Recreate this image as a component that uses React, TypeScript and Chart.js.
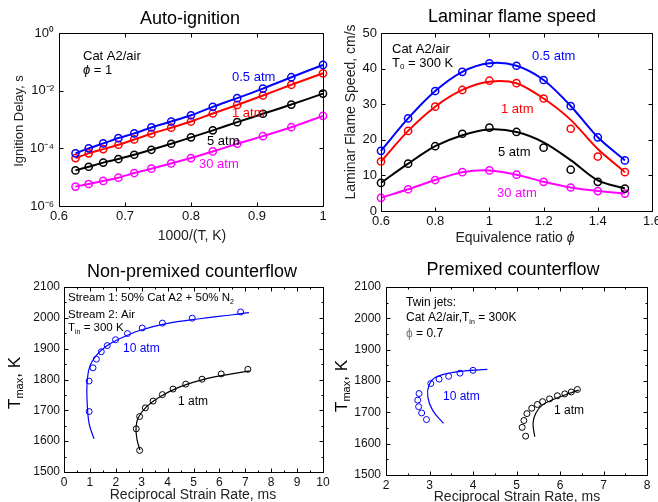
import React, { useEffect, useRef } from 'react';
import { Chart, registerables } from 'chart.js';
Chart.register(...registerables);

const FONT = '"Liberation Sans", Arial, Helvetica, sans-serif';
const BLUE = '#0000ff';
const RED = '#ff0000';
const BLACK = '#000000';
const MAGENTA = '#ff00ff';

// ---------- Panel 1: Auto-ignition ----------
const igX = [0.625, 0.645, 0.667, 0.69, 0.714, 0.74, 0.77, 0.8, 0.833, 0.87, 0.909, 0.952, 1.0];
const ig05 = [6.7e-5, 1.0e-4, 1.48e-4, 2.27e-4, 3.3e-4, 5.3e-4, 8.5e-4, 1.4e-3, 2.75e-3, 5.5e-3, 1.18e-2, 2.93e-2, 7.8e-2];
const ig1 = [4.6e-5, 6.7e-5, 9.4e-5, 1.33e-4, 2.03e-4, 3.2e-4, 5.2e-4, 8.5e-4, 1.62e-3, 3.2e-3, 6.8e-3, 1.6e-2, 4.0e-2];
const ig5 = [1.72e-5, 2.3e-5, 3.2e-5, 4.25e-5, 6.0e-5, 8.9e-5, 1.44e-4, 2.4e-4, 4.2e-4, 8.1e-4, 1.58e-3, 3.3e-3, 7.9e-3];
const ig30 = [4.7e-6, 5.8e-6, 7.4e-6, 9.6e-6, 1.39e-5, 1.97e-5, 3.0e-5, 4.6e-5, 7.8e-5, 1.44e-4, 2.65e-4, 5.4e-4, 1.34e-3];
const igXTicks = [0.6, 0.7, 0.8, 0.9, 1.0];
const igYTicks = [1e-6, 1e-4, 1e-2, 1];

// ---------- Panel 2: Laminar flame speed ----------
const phiX = [0.6, 0.7, 0.8, 0.9, 1.0, 1.1, 1.2, 1.3, 1.4, 1.5];
const sl05 = [16.9, 26.0, 33.7, 39.1, 41.5, 40.8, 36.8, 29.5, 20.7, 14.2];
const sl1 = [13.9, 22.5, 29.3, 34.0, 36.6, 35.9, 31.6, 23.1, 15.3, 10.9];
const sl1Line = [13.9, 22.5, 29.3, 34.0, 36.3, 35.9, 31.6, 25.6, 17.4, 10.9];
const sl5 = [7.9, 13.3, 18.2, 21.7, 23.4, 22.2, 17.8, 11.6, 8.2, 6.3];
const sl5Line = [7.9, 13.3, 18.2, 21.3, 22.9, 22.2, 19.3, 14.3, 8.6, 6.3];
const sl30 = [3.7, 6.1, 8.7, 10.9, 11.4, 10.2, 8.2, 6.6, 5.6, 4.9];
const slXTicks = [0.6, 0.8, 1.0, 1.2, 1.4, 1.6];
const slYTicks = [0, 10, 20, 30, 40, 50];

// ---------- Panel 3: Non-premixed counterflow ----------
const np10MX = [0.97, 0.97, 1.12, 1.25, 1.44, 1.67, 1.99, 2.45, 3.02, 3.80, 4.95, 6.82];
const np10MY = [1696, 1795, 1838, 1866, 1890, 1910, 1929, 1949, 1967, 1983, 1999, 2019];
const np10LX = [1.16, 0.97, 0.89, 0.89, 0.99, 1.25, 1.63, 2.15, 2.92, 3.95, 5.24, 6.52, 7.14];
const np10LY = [1608, 1657, 1732, 1786, 1841, 1878, 1908, 1932, 1959, 1981, 1997, 2010, 2017];
const np1MX = [2.92, 2.79, 2.92, 3.14, 3.44, 3.80, 4.21, 4.70, 5.33, 6.07, 7.10];
const np1MY = [1570, 1640, 1680, 1708, 1730, 1751, 1769, 1785, 1801, 1818, 1833];
const np1LX = [2.93, 2.82, 2.78, 2.86, 3.18, 3.69, 4.47, 5.50, 6.53, 7.17];
const np1LY = [1571, 1605, 1643, 1675, 1711, 1743, 1776, 1803, 1819, 1828];
const npXTicks = [0, 1, 2, 3, 4, 5, 6, 7, 8, 9, 10];
const npXMinor = [0.5, 1.5, 2.5, 3.5, 4.5, 5.5, 6.5, 7.5, 8.5, 9.5];
const tYTicks = [1500, 1600, 1700, 1800, 1900, 2000, 2100];
const tYMinor = [1550, 1650, 1750, 1850, 1950, 2050];

// ---------- Panel 4: Premixed counterflow ----------
const p10MX = [2.93, 2.82, 2.75, 2.73, 2.76, 3.03, 3.22, 3.44, 3.70, 4.00];
const p10MY = [1677, 1698, 1718, 1739, 1760, 1792, 1806, 1815, 1825, 1834];
const p10LX = [3.32, 3.07, 2.96, 2.99, 3.15, 3.61, 4.33];
const p10LY = [1665, 1707, 1750, 1787, 1813, 1829, 1837];
const p1MX = [5.21, 5.13, 5.17, 5.24, 5.35, 5.48, 5.60, 5.76, 5.94, 6.11, 6.26, 6.40];
const p1MY = [1624, 1652, 1674, 1696, 1713, 1725, 1734, 1743, 1753, 1759, 1765, 1773];
const p1LX = [5.42, 5.38, 5.44, 5.59, 5.90, 6.20, 6.43];
const p1LY = [1622, 1665, 1696, 1723, 1744, 1760, 1771];
const pXTicks = [2, 3, 4, 5, 6, 7, 8];
const pXMinor = [2.5, 3.5, 4.5, 5.5, 6.5, 7.5];

// ---------- helpers ----------
type Seg = { t: string; sub?: boolean; sup?: boolean; color?: string; italic?: boolean };
type Txt = { segs: Seg[]; x: number; y: number; size: number; align?: 'left' | 'center'; rot?: boolean; color?: string };

const fontStr = (size: number, italic?: boolean) => `${italic ? 'italic ' : ''}${size}px ${FONT}`;

function drawRich(ctx: CanvasRenderingContext2D, it: Txt) {
  ctx.save();
  const base = it.size;
  const parts = it.segs.map((s) => {
    const sz = s.sub || s.sup ? Math.round(base * 0.62) : base;
    ctx.font = fontStr(sz, s.italic);
    return { s, sz, w: ctx.measureText(s.t).width };
  });
  const total = parts.reduce((a, p) => a + p.w, 0);
  ctx.translate(it.x, it.y);
  if (it.rot) ctx.rotate(-Math.PI / 2);
  let x = it.align === 'center' ? -total / 2 : 0;
  ctx.textBaseline = 'middle';
  ctx.textAlign = 'left';
  for (const p of parts) {
    ctx.font = fontStr(p.sz, p.s.italic);
    ctx.fillStyle = p.s.color || it.color || '#000';
    const dy = p.s.sub ? base * 0.32 : p.s.sup ? -base * 0.35 : 0;
    ctx.fillText(p.s.t, x, dy);
    x += p.w;
  }
  ctx.restore();
}

const pts = (xs: number[], ys: number[]) => xs.map((x, i) => ({ x, y: ys[i] }));

const markers = (xs: number[], ys: number[], color: string, r: number, bw: number) => ({
  data: pts(xs, ys),
  showLine: false,
  pointRadius: r,
  pointHoverRadius: r,
  pointBorderWidth: bw,
  pointBorderColor: color,
  pointBackgroundColor: 'rgba(0,0,0,0)',
  clip: false,
});

const curve = (xs: number[], ys: number[], color: string, w: number, tension: number) => ({
  data: pts(xs, ys),
  showLine: true,
  borderColor: color,
  borderWidth: w,
  pointRadius: 0,
  pointHoverRadius: 0,
  tension,
  fill: false,
  clip: false,
});

const SUP: Record<string, string> = { '-': '⁻', '0': '⁰', '1': '¹', '2': '²', '3': '³', '4': '⁴', '5': '⁵', '6': '⁶', '7': '⁷', '8': '⁸', '9': '⁹' };
const plain = (v: number) => String(Math.round(v * 1000) / 1000);

type PanelDef = {
  w: number;
  h: number;
  plot: { l: number; t: number; r: number; b: number };
  xMin: number; xMax: number; yMin: number; yMax: number;
  yLog?: boolean;
  xTicks: number[]; yTicks: number[];
  xMinor?: number[]; yMinor?: number[];
  tickFont: number;
  xPad: number; yPad: number;
  majorLen: number; minorLen: number;
  datasets: any[];
  texts: Txt[];
  yLabel?: (v: number) => string;
};

function makeConfig(p: PanelDef): any {
  const frame = {
    id: 'frameAndText',
    afterDatasetsDraw(chart: any) {
      const ctx: CanvasRenderingContext2D = chart.ctx;
      const a = chart.chartArea;
      const xs = chart.scales.x;
      const ys = chart.scales.y;
      ctx.save();
      ctx.strokeStyle = '#000';
      ctx.lineWidth = 1;
      const L = Math.round(a.left) + 0.5, R = Math.round(a.right) + 0.5;
      const T = Math.round(a.top) + 0.5, B = Math.round(a.bottom) + 0.5;
      ctx.beginPath();
      ctx.rect(L, T, R - L, B - T);
      const tx = (v: number, len: number) => {
        const px = Math.round(xs.getPixelForValue(v)) + 0.5;
        ctx.moveTo(px, B); ctx.lineTo(px, B - len);
        ctx.moveTo(px, T); ctx.lineTo(px, T + len);
      };
      const ty = (v: number, len: number) => {
        const py = Math.round(ys.getPixelForValue(v)) + 0.5;
        ctx.moveTo(L, py); ctx.lineTo(L + len, py);
        ctx.moveTo(R, py); ctx.lineTo(R - len, py);
      };
      p.xTicks.forEach((v) => tx(v, p.majorLen));
      p.yTicks.forEach((v) => ty(v, p.majorLen));
      (p.xMinor || []).forEach((v) => tx(v, p.minorLen));
      (p.yMinor || []).forEach((v) => ty(v, p.minorLen));
      ctx.stroke();
      ctx.restore();
    },
    afterDraw(chart: any) {
      const ctx: CanvasRenderingContext2D = chart.ctx;
      p.texts.forEach((t) => drawRich(ctx, t));
    },
  };

  const tickFont = { family: FONT, size: p.tickFont };
  return {
    type: 'scatter',
    data: { datasets: p.datasets },
    options: {
      responsive: false,
      animation: false,
      events: [],
      layout: { padding: { left: 0, top: p.plot.t, right: p.w - p.plot.r, bottom: 0 } },
      plugins: { legend: { display: false }, tooltip: { enabled: false }, title: { display: false } },
      scales: {
        x: {
          type: 'linear',
          min: p.xMin,
          max: p.xMax,
          grid: { display: false, drawTicks: false },
          border: { display: false },
          ticks: {
            font: tickFont, color: '#111', padding: p.xPad, autoSkip: false, maxRotation: 0, minRotation: 0,
            callback: (v: any) => plain(Number(v)),
          },
          afterBuildTicks: (s: any) => { s.ticks = p.xTicks.map((v) => ({ value: v })); },
          afterFit: (s: any) => { s.height = p.h - p.plot.b; },
        },
        y: {
          type: p.yLog ? 'logarithmic' : 'linear',
          min: p.yMin,
          max: p.yMax,
          grid: { display: false, drawTicks: false },
          border: { display: false },
          ticks: {
            font: tickFont,
            color: '#111',
            padding: p.yPad,
            autoSkip: false,
            callback: (v: any) => (p.yLabel ? p.yLabel(Number(v)) : plain(Number(v))),
          },
          afterBuildTicks: (s: any) => { s.ticks = p.yTicks.map((v) => ({ value: v })); },
          afterFit: (s: any) => { s.width = p.plot.l; },
        },
      },
    },
    plugins: [frame],
  };
}

// ---------- panel definitions ----------
const panel1: PanelDef = {
  w: 345, h: 250,
  plot: { l: 59, t: 33, r: 323, b: 206 },
  xMin: 0.6, xMax: 1.0, yMin: 1e-6, yMax: 1, yLog: true,
  xTicks: igXTicks, yTicks: igYTicks,
  tickFont: 13, xPad: 3, yPad: 5, majorLen: 4, minorLen: 2,
  yLabel: (v) => '10' + String(Math.round(Math.log10(v))).split('').map((c) => SUP[c] || c).join(''),
  datasets: [
    markers(igX, ig05, BLUE, 3.6, 1.5), markers(igX, ig1, RED, 3.6, 1.5),
    markers(igX, ig5, BLACK, 3.6, 1.5), markers(igX, ig30, MAGENTA, 3.6, 1.5),
    curve(igX, ig05, BLUE, 2, 0.3), curve(igX, ig1, RED, 2, 0.3),
    curve(igX, ig5, BLACK, 2, 0.3), curve(igX, ig30, MAGENTA, 2, 0.3),
  ],
  texts: [
    { segs: [{ t: 'Auto-ignition' }], x: 190, y: 19, size: 18, align: 'center' },
    { segs: [{ t: '1000/(T, K)' }], x: 192, y: 236, size: 14, align: 'center', color: '#222' },
    { segs: [{ t: 'Ignition Delay, s' }], x: 19, y: 121, size: 13, align: 'center', rot: true, color: '#222' },
    { segs: [{ t: 'Cat A2/air' }], x: 83, y: 56, size: 13 },
    { segs: [{ t: 'ϕ', italic: true }, { t: ' = 1' }], x: 83, y: 70, size: 13 },
    { segs: [{ t: '0.5 atm' }], x: 232, y: 77, size: 13, color: BLUE },
    { segs: [{ t: '1 atm' }], x: 232, y: 113, size: 13, color: RED },
    { segs: [{ t: '5 atm' }], x: 207, y: 141, size: 13, color: BLACK },
    { segs: [{ t: '30 atm' }], x: 199, y: 164, size: 13, color: MAGENTA },
  ],
};

const panel2: PanelDef = {
  w: 345, h: 250,
  plot: { l: 52, t: 33, r: 323, b: 211 },
  xMin: 0.6, xMax: 1.6, yMin: 0, yMax: 50,
  xTicks: slXTicks, yTicks: slYTicks,
  tickFont: 13, xPad: 3, yPad: 4, majorLen: 4, minorLen: 2,
  datasets: [
    markers(phiX, sl05, BLUE, 3.6, 1.5), markers(phiX, sl1, RED, 3.6, 1.5),
    markers(phiX, sl5, BLACK, 3.6, 1.5), markers(phiX, sl30, MAGENTA, 3.6, 1.5),
    curve(phiX, sl05, BLUE, 2, 0.3), curve(phiX, sl1Line, RED, 2, 0.3),
    curve(phiX, sl5Line, BLACK, 2, 0.3), curve(phiX, sl30, MAGENTA, 2, 0.3),
  ],
  texts: [
    { segs: [{ t: 'Laminar flame speed' }], x: 183, y: 17, size: 18, align: 'center' },
    { segs: [{ t: 'Equivalence ratio ' }, { t: 'ϕ', italic: true }], x: 186, y: 238, size: 14, align: 'center', color: '#222' },
    { segs: [{ t: 'Laminar Flame Speed, cm/s' }], x: 22, y: 112, size: 14, align: 'center', rot: true, color: '#222' },
    { segs: [{ t: 'Cat A2/air' }], x: 63, y: 49, size: 13 },
    { segs: [{ t: 'T' }, { t: '0', sub: true }, { t: ' = 300 K' }], x: 63, y: 63, size: 13 },
    { segs: [{ t: '0.5 atm' }], x: 203, y: 56, size: 13, color: BLUE },
    { segs: [{ t: '1 atm' }], x: 172, y: 109, size: 13, color: RED },
    { segs: [{ t: '5 atm' }], x: 169, y: 152, size: 13, color: BLACK },
    { segs: [{ t: '30 atm' }], x: 168, y: 193, size: 13, color: MAGENTA },
  ],
};

const panel3: PanelDef = {
  w: 345, h: 252,
  plot: { l: 64, t: 37, r: 323, b: 222 },
  xMin: 0, xMax: 10, yMin: 1500, yMax: 2100,
  xTicks: npXTicks, yTicks: tYTicks, xMinor: npXMinor, yMinor: tYMinor,
  tickFont: 12, xPad: 3, yPad: 4, majorLen: 4, minorLen: 2,
  datasets: [
    markers(np10MX, np10MY, BLUE, 3, 1), markers(np1MX, np1MY, BLACK, 3, 1),
    curve(np10LX, np10LY, BLUE, 1.2, 0.4), curve(np1LX, np1LY, BLACK, 1.2, 0.4),
  ],
  texts: [
    { segs: [{ t: 'Non-premixed counterflow' }], x: 192, y: 22, size: 18, align: 'center' },
    { segs: [{ t: 'Reciprocal Strain Rate, ms' }], x: 193, y: 245, size: 14, align: 'center', color: '#222' },
    { segs: [{ t: 'T' }, { t: 'max', sub: true }, { t: ', K' }], x: 15, y: 133, size: 17, align: 'center', rot: true },
    { segs: [{ t: 'Stream 1: 50% Cat A2 + 50% N' }, { t: '2', sub: true }], x: 68, y: 48, size: 11.5 },
    { segs: [{ t: 'Stream 2: Air' }], x: 68, y: 65, size: 11.5 },
    { segs: [{ t: 'T' }, { t: 'in', sub: true }, { t: ' = 300 K' }], x: 68, y: 78, size: 11.5 },
    { segs: [{ t: '10 atm' }], x: 123, y: 99, size: 12, color: BLUE },
    { segs: [{ t: '1 atm' }], x: 178, y: 152, size: 12, color: BLACK },
  ],
};

const panel4: PanelDef = {
  w: 345, h: 252,
  plot: { l: 57, t: 37, r: 318, b: 225 },
  xMin: 2, xMax: 8, yMin: 1500, yMax: 2100,
  xTicks: pXTicks, yTicks: tYTicks, xMinor: pXMinor, yMinor: tYMinor,
  tickFont: 12, xPad: 3, yPad: 5, majorLen: 4, minorLen: 2,
  datasets: [
    markers(p10MX, p10MY, BLUE, 3, 1), markers(p1MX, p1MY, BLACK, 3, 1),
    curve(p10LX, p10LY, BLUE, 1.2, 0.4), curve(p1LX, p1LY, BLACK, 1.2, 0.4),
  ],
  texts: [
    { segs: [{ t: 'Premixed counterflow' }], x: 184, y: 20, size: 18, align: 'center' },
    { segs: [{ t: 'Reciprocal Strain Rate, ms' }], x: 188, y: 247, size: 14, align: 'center', color: '#222' },
    { segs: [{ t: 'T' }, { t: 'max', sub: true }, { t: ', K' }], x: 13, y: 136, size: 17, align: 'center', rot: true },
    { segs: [{ t: 'Twin jets:' }], x: 77, y: 53, size: 12 },
    { segs: [{ t: 'Cat A2/air,T' }, { t: 'in', sub: true }, { t: ' = 300K' }], x: 77, y: 68, size: 12 },
    { segs: [{ t: 'ϕ', color: '#777' }, { t: ' = 0.7' }], x: 77, y: 84, size: 12 },
    { segs: [{ t: '10 atm' }], x: 114, y: 147, size: 12, color: BLUE },
    { segs: [{ t: '1 atm' }], x: 225, y: 161, size: 12, color: BLACK },
  ],
};

function Panel({ def, left, top }: { def: PanelDef; left: number; top: number }) {
  const ref = useRef<HTMLCanvasElement>(null);
  useEffect(() => {
    const chart = new Chart(ref.current as HTMLCanvasElement, makeConfig(def));
    return () => chart.destroy();
  }, [def]);
  return (
    <canvas
      ref={ref}
      width={def.w}
      height={def.h}
      style={{ position: 'absolute', left, top, width: def.w, height: def.h }}
    />
  );
}

export default function App() {
  return (
    <div style={{ position: 'fixed', left: 0, top: 0, width: 658, height: 502, overflow: 'hidden', background: '#fff' }}>
      <Panel def={panel1} left={0} top={0} />
      <Panel def={panel2} left={329} top={0} />
      <Panel def={panel3} left={0} top={250} />
      <Panel def={panel4} left={329} top={250} />
    </div>
  );
}
